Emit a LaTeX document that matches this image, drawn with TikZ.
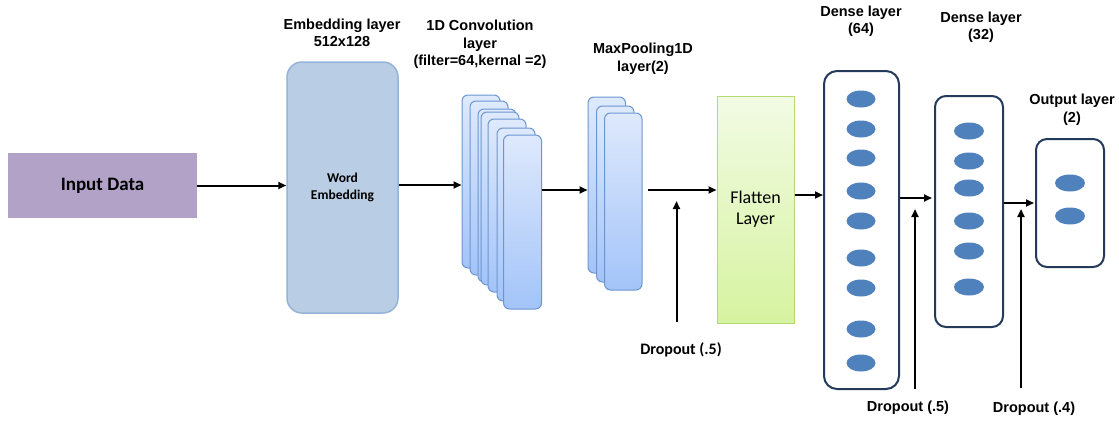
\documentclass[tikz,border=0pt]{standalone}
\usepackage{fontspec}
\setmainfont{Liberation Sans}
\newfontfamily\calibri{Carlito}
\usetikzlibrary{arrows.meta,shapes.geometric}

\definecolor{inputfill}{RGB}{179,162,199}
\definecolor{embfill}{RGB}{185,205,229}
\definecolor{embline}{RGB}{149,179,215}
\definecolor{convtop}{RGB}{222,233,252}
\definecolor{convbot}{RGB}{163,196,249}
\definecolor{convline}{RGB}{108,150,208}
\definecolor{flattop}{RGB}{242,251,228}
\definecolor{flatbot}{RGB}{214,243,160}
\definecolor{flatline}{RGB}{180,218,112}
\definecolor{denseline}{RGB}{36,58,90}
\definecolor{neuron}{RGB}{79,129,189}

\tikzset{
  title/.style={align=center, font=\bfseries\fontsize{14.5}{17.5}\selectfont, inner sep=0pt},
  droplabel/.style={font=\bfseries\fontsize{14.5}{17}\selectfont, inner sep=0pt},
  arr/.style={line width=2pt, -{Triangle[length=8pt,width=7pt]}},
  featmap/.style={draw=convline, line width=1pt, rounded corners=6pt,
    top color=convtop, bottom color=convbot, minimum width=38pt, inner sep=0pt},
  densebox/.style={draw=denseline, line width=2pt, fill=white, inner sep=0pt},
  neuronnode/.style={ellipse, fill=neuron, minimum width=29pt, minimum height=17pt, inner sep=0pt},
}

\begin{document}
\begin{tikzpicture}[x=1pt,y=-1pt]
\useasboundingbox (0,0) rectangle (1119,423);

% input
\node[fill=inputfill, minimum width=189pt, minimum height=65pt, inner sep=0pt,
      font=\calibri\bfseries\fontsize{19}{22}\selectfont] (input) at (102.5,185.5) {Input Data};

% embedding layer
\node[draw=embline, fill=embfill, line width=1.5pt, rounded corners=15pt,
      minimum width=111pt, minimum height=251pt, inner sep=0pt, align=center,
      font=\calibri\bfseries\fontsize{13.5}{17}\selectfont] (emb) at (342.5,187.5) {Word\\Embedding};
\node[title] (embtitle) at (342,33) {Embedding layer\\512x128};

% 1D convolution feature maps
\foreach \i/\l/\t/\b in {1/462/95/268, 2/470/101/275, 3/478/109/282, 4/481/112/285,
                         5/488/119/292, 6/497/128/301, 7/503.5/135/309} {
  \node[featmap, minimum height={(\b-\t)*1pt}] (conv\i) at (\l+19,{(\t+\b)/2}) {};
}
\node[title] (convtitle) at (480,44.5) {1D Convolution\\layer\\(filter=64,kernal =2)};

% max pooling maps
\foreach \i/\l/\t/\b in {1/588/97/273, 2/596.5/106/282, 3/604.5/113/290} {
  \node[featmap, minimum width=37.5pt, minimum height={(\b-\t)*1pt}] (mp\i) at (\l+18.75,{(\t+\b)/2}) {};
}
\node[title] (mptitle) at (643,59) {MaxPooling1D\\layer(2)};

% flatten
\node[draw=flatline, line width=1pt, top color=flattop, bottom color=flatbot,
      minimum width=77pt, minimum height=227pt, inner sep=0pt, align=center,
      font=\calibri\fontsize{18}{21}\selectfont] (flat) at (755.5,209.5) {Flatten\\Layer};

% dense 64
\node[densebox, rounded corners=13pt, minimum width=75pt, minimum height=318pt] (d64) at (861.5,230) {};
\foreach \k/\y in {1/99, 2/129, 3/158, 4/191, 5/221, 6/258, 7/288, 8/329, 9/363} {
  \node[neuronnode] (a\k) at (861,\y) {};
}
\node[title] (d64title) at (861,21.5) {Dense layer\\(64)};

% dense 32
\node[densebox, rounded corners=11pt, minimum width=68pt, minimum height=231pt] (d32) at (969,211.5) {};
\foreach \k/\y in {1/131, 2/161, 3/188, 4/221, 5/251, 6/287} {
  \node[neuronnode, minimum width=30pt] (b\k) at (969,\y) {};
}
\node[title] (d32title) at (981,27.5) {Dense layer\\(32)};

% output
\node[densebox, rounded corners=11pt, minimum width=68pt, minimum height=128pt] (out) at (1070,203) {};
\node[neuronnode, minimum width=30pt] (c1) at (1070,183) {};
\node[neuronnode, minimum width=30pt] (c2) at (1070,216) {};
\node[title] (outtitle) at (1072,109.5) {Output layer\\(2)};

% forward connections
\draw[arr] (input.east) -- (input.east -| emb.west);
\draw[arr] (emb.east |- 0,185) -- (conv1.west |- 0,185);
\draw[arr] (conv7.east |- 0,190) -- (mp1.west |- 0,190);
\coordinate (mpout) at (648,190);
\draw[arr] (mpout) -- (mpout -| flat.west);
\draw[arr] (flat.east |- 0,195) -- (d64.west |- 0,195);
\draw[arr] (d64.east |- 0,198) -- (932,198) coordinate (d32in);
\draw[arr] (d32.east |- 0,203) -- (1034,203) coordinate (outin);

% dropout
\coordinate (dp1) at (676.5,322);
\coordinate (dp1tip) at (676.5,201);
\draw[arr] (dp1) -- (dp1tip);
\node[font=\calibri\bfseries\fontsize{16}{19}\selectfont, inner sep=0pt] (dp1lbl) at (681,350) {Dropout (.5)};

\coordinate (dp2) at (915,389);
\coordinate (dp2tip) at (915,209);
\draw[arr] (dp2) -- (dp2tip);
\node[droplabel] (dp2lbl) at (908,408) {Dropout (.5)};

\coordinate (dp3) at (1021,388);
\coordinate (dp3tip) at (1021,209);
\draw[arr] (dp3) -- (dp3tip);
\node[droplabel] (dp3lbl) at (1034,409) {Dropout (.4)};
\end{tikzpicture}
\end{document}
